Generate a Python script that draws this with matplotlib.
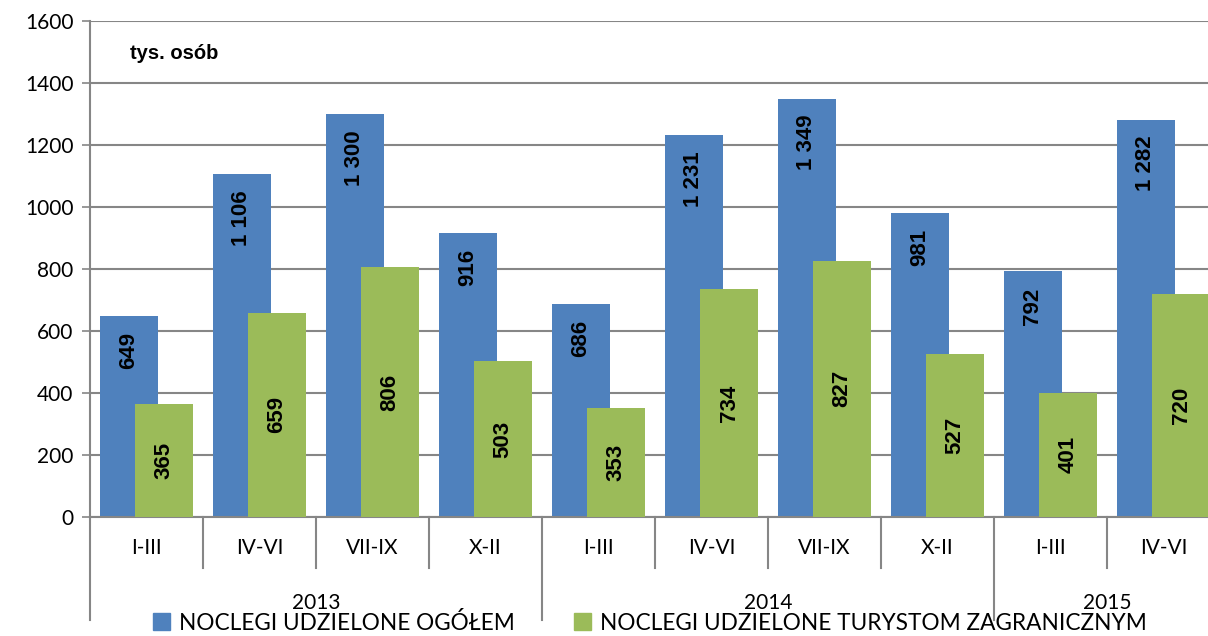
import matplotlib
matplotlib.use("Agg")
import matplotlib.pyplot as plt
from matplotlib.patches import Patch
import numpy as np

# data (thousands of persons)
quarters = ["I-III", "IV-VI", "VII-IX", "X-II", "I-III", "IV-VI", "VII-IX", "X-II", "I-III", "IV-VI"]
years = ["2013", "2014", "2015"]
year_span = [4, 4, 2]
total = [649, 1106, 1300, 916, 686, 1231, 1349, 981, 792, 1282]
foreign = [365, 659, 806, 503, 353, 734, 827, 527, 401, 720]
series_names = ["NOCLEGI UDZIELONE OGÓŁEM", "NOCLEGI UDZIELONE TURYSTOM ZAGRANICZNYM"]
yticks = [0, 200, 400, 600, 800, 1000, 1200, 1400, 1600]

BLUE = "#4F81BD"
GREEN = "#9BBB59"
GRAY = "#868686"
TICK_FONT = "Lato"
LABEL_FONT = "Liberation Sans"


def fmt(v):
    return f"{v:,}".replace(",", " ")


fig = plt.figure(figsize=(12.08, 6.36), dpi=100)
ax = fig.add_axes([90 / 1208, 119 / 636, 1130 / 1208, 496 / 636])

x = np.arange(len(quarters))
w = 0.52
off = 0.155
ax.bar(x - off, total, w, color=BLUE, zorder=2)
ax.bar(x + off, foreign, w, color=GREEN, zorder=3)

for xi, v in zip(x, total):
    ax.annotate(fmt(v), (xi - off, v), xytext=(0, -11.5), textcoords="offset points",
                rotation=90, ha="center", va="top", fontsize=16, fontweight="bold",
                family=LABEL_FONT, zorder=4)
for xi, v in zip(x, foreign):
    ax.text(xi + off, v / 2, fmt(v), rotation=90, ha="center", va="center",
            fontsize=16, fontweight="bold", family=LABEL_FONT, zorder=4)

ax.set_xlim(-0.5, len(quarters) - 0.5)
ax.set_ylim(0, 1600)
ax.set_yticks(yticks)
ax.set_yticklabels([str(t) for t in yticks], family=TICK_FONT, fontsize=15)
ax.yaxis.grid(True, color=GRAY, linewidth=1.5, zorder=0)
ax.set_axisbelow(True)
ax.tick_params(axis="y", length=6, width=1.2, color=GRAY, pad=6)
ax.set_xticks([])

for side in ["top", "right"]:
    ax.spines[side].set_visible(False)
for side in ["left", "bottom"]:
    ax.spines[side].set_color(GRAY)
    ax.spines[side].set_linewidth(1.5)

ax.text(0.035, 0.935, "tys. osób", transform=ax.transAxes, fontsize=14.5,
        fontweight="bold", family=LABEL_FONT, va="center")

# two-level category axis
tr = ax.get_xaxis_transform()
for xi, q in zip(x, quarters):
    ax.text(xi, -0.063, q, transform=tr, ha="center", va="center",
            fontsize=15, family=TICK_FONT)

year_edges = np.cumsum([0] + year_span) - 0.5
for b in np.arange(len(quarters) + 1) - 0.5:
    if b in year_edges:
        ax.plot([b, b], [0, -0.208], transform=tr, color=GRAY, lw=1.5, clip_on=False)
    else:
        ax.plot([b, b], [0, -0.103], transform=tr, color=GRAY, lw=1.5, clip_on=False)

for i, yr in enumerate(years):
    mid = (year_edges[i] + year_edges[i + 1]) / 2
    ax.text(mid, -0.173, yr, transform=tr, ha="center", va="center",
            fontsize=15, family=TICK_FONT)

handles = [Patch(color=BLUE), Patch(color=GREEN)]
leg = fig.legend(handles, series_names, loc="center", bbox_to_anchor=(0.538, 0.021),
                 ncol=2, frameon=False, prop={"family": TICK_FONT, "size": 16.3},
                 handlelength=0.75, handleheight=0.75, handletextpad=0.4,
                 columnspacing=2.6, borderpad=0.1)

fig.savefig("out.png", dpi=100)
